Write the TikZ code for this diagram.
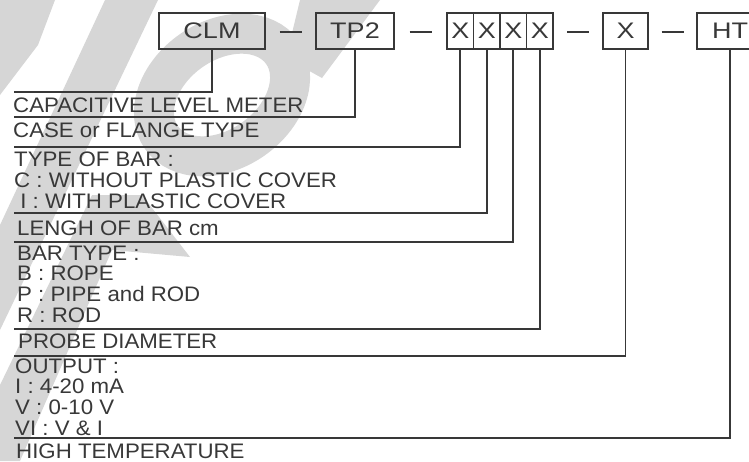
\documentclass[tikz,border=0pt]{standalone}
\usepackage{fontspec}
\setmainfont{Liberation Sans}[FakeStretch=1.06]
\newfontfamily\boxfont{Liberation Sans}[FakeStretch=1.2]
\usepackage{xcolor}
\usetikzlibrary{positioning, calc}
\definecolor{inkgray}{HTML}{383838}
\definecolor{wmgray}{HTML}{D6D6D6}

\begin{document}
\begin{tikzpicture}[x=1pt, y=-1pt,
    codebox/.style={draw=inkgray, line width=1.4pt, inner sep=0pt, outer sep=0pt,
      minimum height=36pt, text=inkgray, font=\boxfont\fontsize{22.5}{22.5}\selectfont},
    xcell/.style={codebox, minimum width=26.5pt},
    lead/.style={draw=inkgray, line width=1.6pt},
    legend/.style={anchor=base west, inner sep=0pt, align=left, text=inkgray,
      font=\fontsize{21}{20.6}\selectfont}]
  \useasboundingbox (0,0) rectangle (749,461);
  \clip (0,0) rectangle (749,461);

  % watermark
  \fill[wmgray] (0,0) -- (55,0) -- (38,45) -- (0,95) -- cycle;
  \fill[wmgray] (105,0) -- (158,0) -- (0,330) -- (0,225) -- cycle;
  \fill[wmgray] (0,385) -- (92,195) -- (142,195) -- (190,257) -- (112,250) -- (20,461) -- (0,461) -- cycle;
  \draw[wmgray, line width=40pt, rotate around={35:(222,95)}] (222,95) ellipse (74pt and 54pt);
  \fill[wmgray] (300,0) -- (380,0) -- (322,78) -- (286,58) -- cycle;

  % code boxes
  \node[codebox, minimum width=106pt] (clm) at (212,31) {CLM};
  \node[codebox, minimum width=78pt, right=51pt of clm] (tp2) {TP2};
  \node[xcell, right=53pt of tp2] (xa) {X};
  \node[xcell, right=0pt of xa] (xb) {X};
  \node[xcell, right=0pt of xb] (xc) {X};
  \node[xcell, right=0pt of xc] (xd) {X};
  \node[codebox, minimum width=45pt, right=50pt of xd] (xo) {X};
  \node[codebox, minimum width=66pt, right=49pt of xo] (ht) {HT};

  % dashes between boxes
  \foreach \a/\b in {clm/tp2, tp2/xa, xd/xo, xo/ht}
    \draw[lead] ($(\a.east)!.5!(\b.west)$) ++(-11,1) -- ++(22,0);

  % legend texts (multi-line: base is the last line)
  \node[legend] (cap) at (13,112) {CAPACITIVE LEVEL METER};
  \node[legend] (case) at (13,137) {CASE or FLANGE TYPE};
  \node[legend] (bar) at (14,208) {TYPE OF BAR :\\C : WITHOUT PLASTIC COVER\\\ I : WITH PLASTIC COVER};
  \node[legend] (len) at (17,235) {LENGH OF BAR cm};
  \node[legend] (btype) at (17,322) {BAR TYPE :\\B : ROPE\\P : PIPE and ROD\\R : ROD};
  \node[legend] (probe) at (18,348) {PROBE DIAMETER};
  \node[legend] (out) at (15,435) {OUTPUT :\\I : 4-20 mA\\V : 0-10 V\\VI : V \& I};
  \node[legend] (temp) at (16,458) {HIGH TEMPERATURE};

  % leader ends
  \coordinate (e1) at (14,92);
  \coordinate (e2) at (14,117);
  \coordinate (e3) at (14,147);
  \coordinate (e4) at (14,213);
  \coordinate (e5) at (14,242);
  \coordinate (e6) at (14,329);
  \coordinate (e7) at (14,356);
  \coordinate (e8) at (14,438);

  \draw[lead] (clm.south) |- (e1);
  \draw[lead] (tp2.south) |- (e2);
  \draw[lead] (xa.south) |- (e3);
  \draw[lead] (xb.south) |- (e4);
  \draw[lead] (xc.south) |- (e5);
  \draw[lead] (xd.south) |- (e6);
  \draw[lead] (xo.south) |- (e7);
  \draw[lead] (ht.south) |- (e8);
\end{tikzpicture}
\end{document}
